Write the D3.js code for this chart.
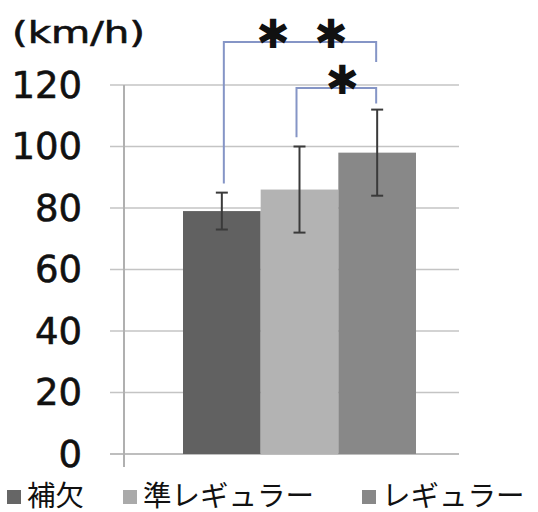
<!DOCTYPE html>
<html>
<head>
<meta charset="utf-8">
<script src="https://cdn.jsdelivr.net/npm/d3@7"></script>
<style>
  body { margin: 0; background: #fff; }
  svg { display: block; }
</style>
</head>
<body>
<svg id="chart" width="538" height="512"></svg>
<script>
const categories = ["補欠", "準レギュラー", "レギュラー"];
const means = [79, 86, 98];
const sds = [6, 14, 14];
const barColors = ["#616161", "#b3b3b3", "#888888"];
const legendColors = ["#666666", "#aaaaaa", "#888888"];
const yTicks = [0, 20, 40, 60, 80, 100, 120];
const unitLabel = "(km/h)";

// significance brackets: bar indexes, top of bracket, ends of the legs (in km/h)
const brackets = [
    {from: 0, to: 2, top: 134, leftEnd: 88, rightEnd: 127.5, starOffsets: [-27, 31]},
    {from: 1, to: 2, top: 119, leftEnd: 103, rightEnd: 114, starOffsets: [6]}
];

const svg = d3.select("#chart");

const y = d3.scaleLinear().domain([0, 120]).range([454, 85]);
const x = d3.scaleBand().domain(categories).range([183, 416]).padding(0);
const axisX = 124, gridRight = 459;

// gridlines + tick marks
svg.append("g")
    .selectAll("line")
    .data(yTicks)
    .join("line")
    .attr("x1", 110)
    .attr("x2", gridRight)
    .attr("y1", d => y(d))
    .attr("y2", d => y(d))
    .attr("stroke", d => d === 0 ? "#a8a8a8" : "#c4c4c4")
    .attr("stroke-width", 1.6);

// vertical axis
svg.append("line")
    .attr("x1", axisX).attr("x2", axisX)
    .attr("y1", y(120)).attr("y2", y(0) + 13)
    .attr("stroke", "#b0b0b0")
    .attr("stroke-width", 2);

// tick labels
svg.append("g")
    .selectAll("text")
    .data(yTicks)
    .join("text")
    .attr("x", 82)
    .attr("y", d => y(d))
    .attr("text-anchor", "end")
    .attr("dominant-baseline", "central")
    .attr("font-family", "DejaVu Sans")
    .attr("font-size", 37)
    .attr("stroke", "#111")
    .attr("stroke-width", 0.6)
    .attr("fill", "#111")
    .text(d => d);

svg.append("text")
    .attr("x", 12)
    .attr("y", 43)
    .attr("font-family", "DejaVu Sans")
    .attr("font-size", 31)
    .attr("textLength", 133)
    .attr("lengthAdjust", "spacingAndGlyphs")
    .attr("stroke", "#111")
    .attr("stroke-width", 0.6)
    .attr("fill", "#111")
    .text(unitLabel);

// bars
svg.append("g")
    .selectAll("rect")
    .data(categories)
    .join("rect")
    .attr("x", d => x(d))
    .attr("width", x.bandwidth())
    .attr("y", (d, i) => y(means[i]))
    .attr("height", (d, i) => y(0) - y(means[i]))
    .attr("fill", (d, i) => barColors[i]);

// error bars
const eb = svg.append("g").attr("stroke", "#3a3a3a").attr("stroke-width", 2);
categories.forEach((c, i) => {
    const cx = x(c) + x.bandwidth() / 2;
    const hi = y(means[i] + sds[i]), lo = y(means[i] - sds[i]);
    eb.append("line").attr("x1", cx).attr("x2", cx).attr("y1", hi).attr("y2", lo);
    eb.append("line").attr("x1", cx - 6).attr("x2", cx + 6).attr("y1", hi).attr("y2", hi);
    eb.append("line").attr("x1", cx - 6).attr("x2", cx + 6).attr("y1", lo).attr("y2", lo);
});

// significance brackets
const bg = svg.append("g");
brackets.forEach(b => {
    const x1 = x(categories[b.from]) + x.bandwidth() / 2 + (b.from === 0 ? 2 : -3);
    const x2 = x(categories[b.to]) + x.bandwidth() / 2 - 1;
    bg.append("path")
        .attr("d", `M${x1},${y(b.leftEnd)}V${y(b.top)}H${x2}V${y(b.rightEnd)}`)
        .attr("fill", "none")
        .attr("stroke", "#8595c6")
        .attr("stroke-width", 2);
    const mid = (x1 + x2) / 2;
    b.starOffsets.forEach(o => {
        bg.append("text")
            .attr("x", mid + o)
            .attr("y", y(b.top) - 8)
            .attr("text-anchor", "middle")
            .attr("dominant-baseline", "central")
            .attr("font-family", "DejaVu Sans")
            .attr("font-size", 40)
            .attr("fill", "#111")
            .text("✱");
    });
});

// legend
const legendX = [7, 123, 362];
const lg = svg.append("g");
categories.forEach((c, i) => {
    lg.append("rect")
        .attr("x", legendX[i])
        .attr("y", 490)
        .attr("width", 14)
        .attr("height", 14)
        .attr("fill", legendColors[i]);
    lg.append("text")
        .attr("x", legendX[i] + 20)
        .attr("y", 493)
        .attr("dominant-baseline", "central")
        .attr("font-family", "Noto Sans CJK JP")
        .attr("font-size", 28.5)
        .attr("fill", "#111")
        .text(c);
});
</script>
</body>
</html>
